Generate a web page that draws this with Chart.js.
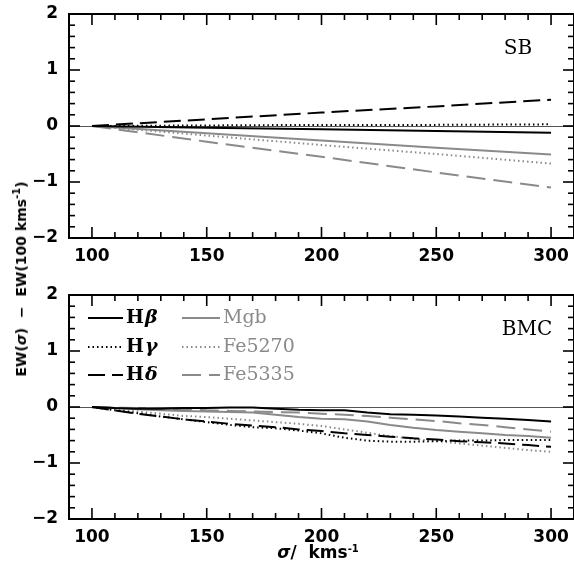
<!DOCTYPE html>
<html>
<head>
<meta charset="utf-8">
<script src="https://cdn.jsdelivr.net/npm/chart.js@4"></script>
<style>
  html, body { margin:0; padding:0; background:#fff; }
  #wrap { position:relative; width:574px; height:570px; overflow:hidden; background:#fff; }
  canvas { position:absolute; left:0; }
  #c1 { top:0; }
  #c2 { top:280px; }
  .ytitle { position:absolute; left:20px; top:279px; transform:translate(-50%,-50%) rotate(-90deg);
    font:bold 14px "DejaVu Sans"; white-space:pre; color:#000; }
  .xtitle { position:absolute; left:318px; top:552px; transform:translate(-50%,-50%);
    font:bold 17px "DejaVu Sans"; white-space:pre; color:#000; }
  sup { font-size:10px; vertical-align:6px; }
</style>
</head>
<body>
<div id="wrap">
  <canvas id="c1" width="574" height="262"></canvas>
  <canvas id="c2" width="574" height="290"></canvas>
  <div class="ytitle">EW(<i>σ</i>)  −  EW(100 kms<sup>-1</sup>)</div>
  <div class="xtitle"><i>σ</i>/  kms<sup>-1</sup></div>
</div>
<script>
// ---------------- DATA ----------------
const seriesNames = ['Hβ', 'Hγ', 'Hδ', 'Mgb', 'Fe5270', 'Fe5335'];
const xTickLabels = [100, 150, 200, 250, 300];
const yTickLabels = [-2, -1, 0, 1, 2];

// SB panel (straight lines)
const sigmaSB = [100, 150, 200, 250, 300];
const sbHbeta  = [0, -0.03, -0.06, -0.09, -0.12];
const sbHgamma = [0, 0.01, 0.02, 0.02, 0.03];
const sbHdelta = [0, 0.12, 0.24, 0.35, 0.47];
const sbMgb    = [0, -0.13, -0.26, -0.39, -0.51];
const sbFe5270 = [0, -0.17, -0.34, -0.50, -0.67];
const sbFe5335 = [0, -0.28, -0.55, -0.83, -1.10];

// BMC panel
const sigmaBMC = [100,110,120,130,140,150,160,170,180,190,200,210,220,230,240,250,260,270,280,290,300];
const bmcHbeta  = [0,-0.02,-0.03,-0.03,-0.02,-0.02,-0.01,-0.01,-0.03,-0.05,-0.06,-0.06,-0.10,-0.13,-0.14,-0.15,-0.17,-0.19,-0.21,-0.23,-0.26];
const bmcHgamma = [0,-0.06,-0.11,-0.17,-0.22,-0.27,-0.32,-0.36,-0.38,-0.42,-0.47,-0.55,-0.60,-0.62,-0.62,-0.61,-0.60,-0.60,-0.59,-0.59,-0.59];
const bmcHdelta = [0,-0.06,-0.12,-0.17,-0.22,-0.26,-0.30,-0.33,-0.36,-0.40,-0.43,-0.47,-0.50,-0.53,-0.56,-0.58,-0.61,-0.63,-0.65,-0.68,-0.71];
const bmcMgb    = [0,-0.02,-0.04,-0.06,-0.07,-0.08,-0.09,-0.10,-0.14,-0.18,-0.21,-0.22,-0.26,-0.32,-0.37,-0.41,-0.44,-0.47,-0.50,-0.52,-0.55];
const bmcFe5270 = [0,-0.04,-0.08,-0.12,-0.16,-0.18,-0.21,-0.24,-0.27,-0.30,-0.34,-0.40,-0.46,-0.52,-0.57,-0.61,-0.65,-0.69,-0.73,-0.77,-0.80];
const bmcFe5335 = [0,-0.01,-0.02,-0.03,-0.04,-0.06,-0.07,-0.08,-0.09,-0.10,-0.12,-0.14,-0.16,-0.19,-0.22,-0.25,-0.29,-0.32,-0.36,-0.40,-0.44];

// ---------------- STYLES ----------------
const BLACK = '#000000', GREY = '#8a8a8a';
const styles = [
  { color: BLACK, dash: [] },
  { color: BLACK, dash: [1.5, 3] },
  { color: BLACK, dash: [17, 7] },
  { color: GREY,  dash: [] },
  { color: GREY,  dash: [1.5, 3] },
  { color: GREY,  dash: [19, 8] },
];

function makeDatasets(xs, ys) {
  return ys.map((arr, i) => ({
    label: seriesNames[i],
    data: arr.map((v, k) => ({ x: xs[k], y: v })),
    borderColor: styles[i].color,
    borderDash: styles[i].dash,
    borderWidth: 2,
    pointRadius: 0,
    tension: 0,
    fill: false,
  }));
}

// Frame + inward ticks on all four sides, panel label, legend
const framePlugin = {
  id: 'frame',
  afterDatasetsDraw(chart, args, opts) {
    const { ctx, chartArea: a, scales } = chart;
    const xs = scales.x, ys = scales.y;
    ctx.save();
    ctx.strokeStyle = '#000';
    ctx.lineWidth = 2;
    ctx.setLineDash([]);
    ctx.strokeRect(a.left, a.top, a.right - a.left, a.bottom - a.top);
    ctx.lineWidth = 1.6;
    const tick = (x1, y1, x2, y2) => { ctx.beginPath(); ctx.moveTo(x1, y1); ctx.lineTo(x2, y2); ctx.stroke(); };
    for (let v = Math.ceil(xs.min / 10) * 10; v <= xs.max; v += 10) {
      const px = xs.getPixelForValue(v);
      const L = (v % 50 === 0) ? 11 : 6;
      tick(px, a.bottom, px, a.bottom - L);
      tick(px, a.top, px, a.top + L);
    }
    for (let k = Math.round(ys.min / 0.2); k <= Math.round(ys.max / 0.2); k++) {
      const v = k * 0.2;
      const py = ys.getPixelForValue(v);
      const L = (k % 5 === 0) ? 11 : 6;
      tick(a.left, py, a.left + L, py);
      tick(a.right, py, a.right - L, py);
    }
    ctx.fillStyle = '#000';
    ctx.font = '20px "DejaVu Serif"';
    ctx.textAlign = 'center';
    ctx.textBaseline = 'middle';
    ctx.fillText(opts.label, opts.lx, opts.ly);
    if (opts.legend) {
      chart.data.datasets.forEach((ds, i) => {
        const col = i < 3 ? 0 : 1, row = i % 3;
        const y = opts.legend.rows[row];
        const x0 = opts.legend.lineX[col][0], x1 = opts.legend.lineX[col][1];
        ctx.strokeStyle = ds.borderColor;
        ctx.lineWidth = 2;
        ctx.setLineDash(ds.borderDash);
        tick(x0, y, x1, y);
        ctx.setLineDash([]);
        ctx.fillStyle = ds.borderColor;
        ctx.textAlign = 'left';
        ctx.textBaseline = 'middle';
        const tx = x1 + 3;
        if (col === 0) {
          ctx.font = 'bold 19px "DejaVu Serif"';
          const h = ds.label.charAt(0);
          ctx.fillText(h, tx, y);
          const w = ctx.measureText(h).width;
          ctx.font = 'italic bold 19px "DejaVu Serif"';
          ctx.fillText(ds.label.slice(1), tx + w + 1, y);
        } else {
          ctx.font = '19px "DejaVu Serif"';
          ctx.fillText(ds.label, tx, y);
        }
      });
    }
    ctx.restore();
  }
};

function makeOptions(xHeight, padTop, panel) {
  return {
    responsive: false,
    animation: false,
    devicePixelRatio: 1,
    layout: { padding: { top: padTop, right: 0, left: 0, bottom: 0 } },
    plugins: { legend: { display: false }, tooltip: { enabled: false }, frame: panel },
    scales: {
      x: {
        type: 'linear', min: 90, max: 310,
        afterBuildTicks: s => { s.ticks = xTickLabels.map(v => ({ value: v })); },
        afterFit: s => { s.height = xHeight; s.paddingLeft = 0; s.paddingRight = 0; },
        grid: { display: false, drawTicks: false },
        border: { display: false },
        ticks: { color: '#000', padding: 8, maxRotation: 0, font: { family: 'DejaVu Sans', weight: 'bold', size: 17 } },
      },
      y: {
        type: 'linear', min: -2, max: 2,
        afterBuildTicks: s => { s.ticks = yTickLabels.map(v => ({ value: v })); },
        afterFit: s => { s.width = 69; s.paddingTop = 0; s.paddingBottom = 0; },
        grid: { drawTicks: false, lineWidth: 1, color: c => (c.tick && c.tick.value === 0) ? '#555' : 'rgba(0,0,0,0)' },
        border: { display: false },
        ticks: { color: '#000', padding: 11, font: { family: 'DejaVu Sans', weight: 'bold', size: 17 },
                 callback: v => (v < 0 ? '\u2212' + Math.abs(v) : String(v)) },
      }
    }
  };
}

new Chart(document.getElementById('c1'), {
  type: 'line',
  data: { datasets: makeDatasets(sigmaSB, [sbHbeta, sbHgamma, sbHdelta, sbMgb, sbFe5270, sbFe5335]) },
  options: makeOptions(24, 14, { label: 'SB', lx: 518, ly: 49 }),
  plugins: [framePlugin]
});

new Chart(document.getElementById('c2'), {
  type: 'line',
  data: { datasets: makeDatasets(sigmaBMC, [bmcHbeta, bmcHgamma, bmcHdelta, bmcMgb, bmcFe5270, bmcFe5335]) },
  options: makeOptions(51, 15, { label: 'BMC', lx: 527, ly: 50,
    legend: { rows: [38, 67, 95], lineX: [[88, 123], [182, 220]] } }),
  plugins: [framePlugin]
});
</script>
</body>
</html>
